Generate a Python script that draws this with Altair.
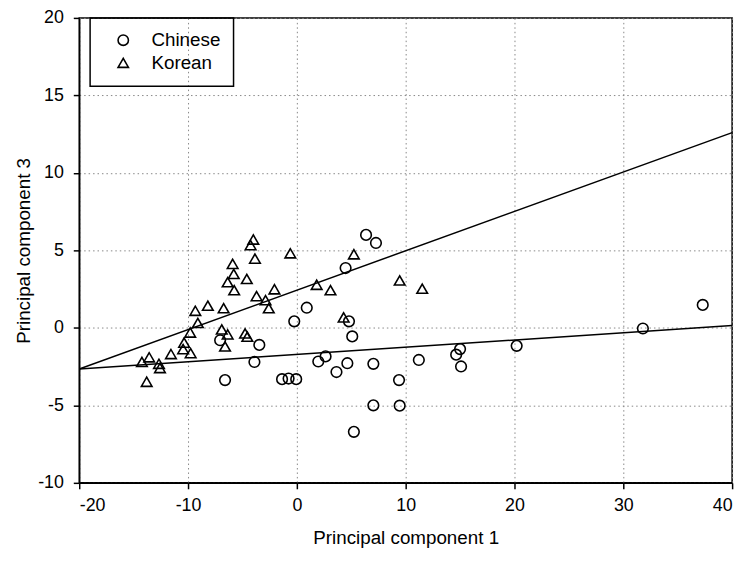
import altair as alt
import pandas as pd

# Chinese (circles)
chinese_x = [-7.05, -3.45, -3.9, -6.6, -1.36, -0.76, -0.06, -0.24, 0.91, 1.97,
             2.64, 3.64, 4.64, 4.48, 6.36, 7.27, 4.79, 5.09, 5.24, 7.03,
             7.03, 9.45, 9.39, 11.21, 15.0, 14.64, 15.09, 20.2, 31.8, 37.3]
chinese_y = [-0.8, -1.1, -2.2, -3.37, -3.31, -3.27, -3.31, 0.42, 1.3, -2.17,
             -1.84, -2.85, -2.28, 3.86, 6.0, 5.48, 0.42, -0.55, -6.71, -2.32,
             -5.0, -5.02, -3.37, -2.07, -1.37, -1.73, -2.49, -1.16, -0.04, 1.48]

# Korean (triangles)
korean_x = [-4.0, -4.25, -3.85, -5.9, -5.8, -4.6, -6.36, -5.76, -3.7, -2.88,
            -8.18, -6.73, -9.33, -9.1, -9.8, -6.9, -6.36, -4.76, -4.55, -10.36,
            -10.45, -9.76, -6.6, -11.57, -13.57, -14.24, -12.67, -12.58, -13.8, -0.6,
            5.24, 9.45, 1.82, 3.09, -2.06, -2.58, 4.3, 11.52]
korean_y = [5.7, 5.34, 4.47, 4.13, 3.48, 3.16, 2.95, 2.43, 2.05, 1.79,
            1.43, 1.27, 1.1, 0.32, -0.3, -0.1, -0.42, -0.36, -0.57, -0.95,
            -1.37, -1.63, -1.2, -1.69, -1.9, -2.2, -2.32, -2.59, -3.48, 4.81,
            4.75, 3.06, 2.78, 2.43, 2.49, 1.27, 0.68, 2.53]

# Fitted lines (endpoints)
line_names = ["upper", "upper", "lower", "lower"]
line_x = [-20, 40, -20, 40]
line_y = [-2.65, 12.6, -2.65, 0.15]

groups = ["Chinese", "Korean"]

pts = pd.DataFrame({
    "x": chinese_x + korean_x,
    "y": chinese_y + korean_y,
    "group": ["Chinese"] * len(chinese_x) + ["Korean"] * len(korean_x),
})
lines = pd.DataFrame({"x": line_x, "y": line_y, "line": line_names})

FONT = "Liberation Sans"
HYPHEN = "datum.value < 0 ? '-' + abs(datum.value) : '' + datum.value"

xscale = alt.Scale(domain=[-20, 40], nice=False)
yscale = alt.Scale(domain=[-10, 20], nice=False)

xaxis = alt.Axis(values=[-20, -10, 0, 10, 20, 30, 40], title="Principal component 1",
                 labelPadding=8, titlePadding=14, labelExpr=HYPHEN)
yaxis = alt.Axis(values=[-10, -5, 0, 5, 10, 15, 20], title="Principal component 3",
                 labelPadding=10, titlePadding=4, labelExpr=HYPHEN)

points = alt.Chart(pts).mark_point(filled=False, color="black", strokeWidth=1.6, size=115, opacity=1).encode(
    x=alt.X("x:Q", scale=xscale, axis=xaxis),
    y=alt.Y("y:Q", scale=yscale, axis=yaxis),
    shape=alt.Shape("group:N", scale=alt.Scale(domain=groups, range=["circle", "triangle-up"]),
                    legend=alt.Legend(title=None, orient="none", legendX=11, legendY=0,
                                      strokeColor="black", padding=13, symbolOffset=11,
                                      labelOffset=19, rowPadding=3,
                                      symbolStrokeColor="black", symbolStrokeWidth=1.6,
                                      symbolFillColor="transparent", symbolSize=110,
                                      labelFontSize=19, labelFont=FONT, labelColor="black")),
)

fit = alt.Chart(lines).mark_line(color="black", strokeWidth=1.5, clip=True).encode(
    x=alt.X("x:Q", scale=xscale),
    y=alt.Y("y:Q", scale=yscale),
    detail="line:N",
)

chart = alt.layer(fit, points).properties(
    width=660, height=470,
    autosize=alt.AutoSizeParams(type="none"),
    padding={"left": 72, "top": 7, "right": 11, "bottom": 77},
).configure_view(
    stroke="black", strokeWidth=1.5
).configure_axis(
    grid=True, gridColor="#888888", gridDash=[1.5, 3], gridWidth=1,
    domainColor="black", domainWidth=1.5, tickColor="black", tickWidth=1.5, tickSize=6,
    labelFont=FONT, labelFontSize=18, labelColor="black",
    titleFont=FONT, titleFontSize=19, titleFontWeight="normal", titleColor="black",
).configure_legend(
    strokeWidth=1.5
)

chart.save("out.html", embed_options={"renderer": "svg", "actions": False})
